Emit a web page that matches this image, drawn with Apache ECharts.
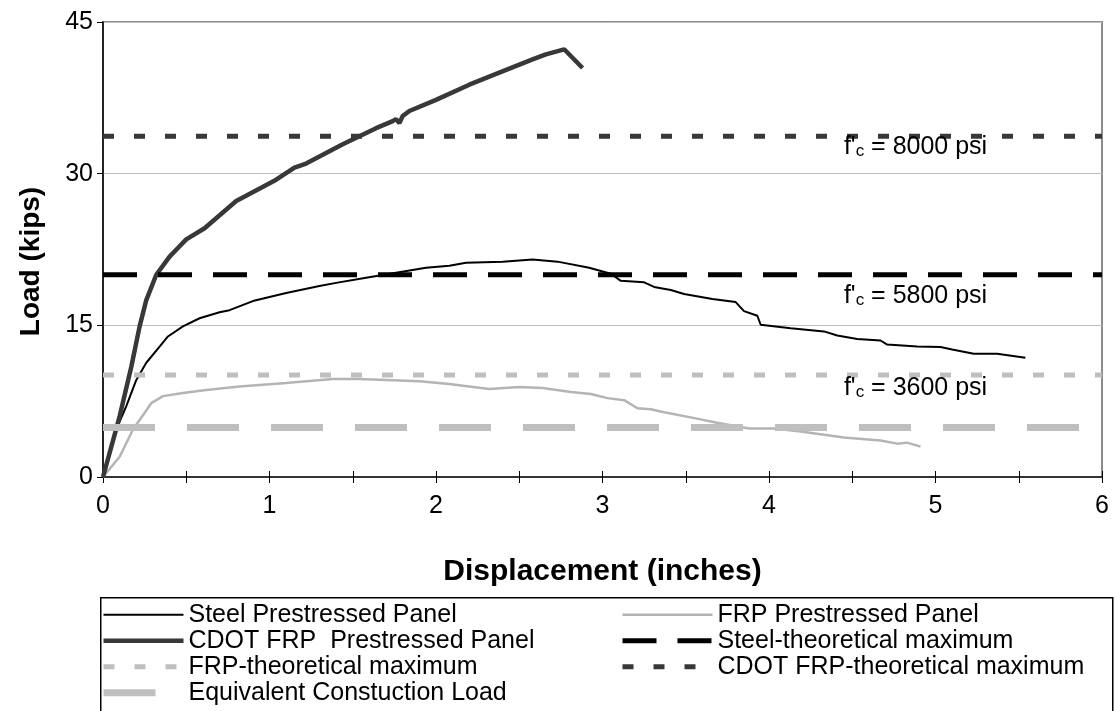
<!DOCTYPE html>
<html>
<head>
<meta charset="utf-8">
<script src="https://cdn.jsdelivr.net/npm/echarts@6/dist/echarts.min.js"></script>
<style>
  html, body { margin: 0; padding: 0; background: #fff; }
  #chart { width: 1115px; height: 711px; }
</style>
</head>
<body>
<div id="chart"></div>
<script>
// displacement (in), load (kips)
const steelPanel = [
  [0, 0], [0.08, 4.7], [0.14, 7.0], [0.20, 9.6], [0.26, 11.3], [0.34, 12.9], [0.39, 13.9],
  [0.48, 14.9], [0.58, 15.7], [0.70, 16.3], [0.76, 16.5], [0.90, 17.4], [1.10, 18.2],
  [1.30, 18.9], [1.40, 19.2], [1.58, 19.7], [1.76, 20.2], [1.94, 20.7], [2.08, 20.9],
  [2.18, 21.2], [2.40, 21.3], [2.58, 21.5], [2.73, 21.3], [2.92, 20.7], [3.05, 20.1],
  [3.11, 19.4], [3.25, 19.25], [3.31, 18.8], [3.41, 18.5], [3.49, 18.1], [3.66, 17.6],
  [3.80, 17.3], [3.85, 16.4], [3.93, 15.95], [3.95, 15.06], [4.13, 14.7], [4.33, 14.4],
  [4.41, 14.0], [4.53, 13.65], [4.67, 13.5], [4.71, 13.1], [4.89, 12.9], [5.03, 12.85],
  [5.10, 12.6], [5.23, 12.2], [5.37, 12.2], [5.54, 11.8]
];
const frpPanel = [
  [0, 0], [0.10, 2.0], [0.18, 4.7], [0.29, 7.3], [0.36, 8.0], [0.48, 8.3], [0.62, 8.6],
  [0.82, 8.96], [1.10, 9.3], [1.38, 9.7], [1.54, 9.7], [1.90, 9.46], [2.08, 9.2],
  [2.32, 8.7], [2.50, 8.9], [2.64, 8.8], [2.81, 8.4], [2.93, 8.2], [3.03, 7.8], [3.13, 7.6],
  [3.21, 6.8], [3.29, 6.7], [3.37, 6.4], [3.56, 5.8], [3.68, 5.4], [3.88, 4.8], [4.03, 4.8],
  [4.19, 4.5], [4.45, 3.9], [4.67, 3.6], [4.77, 3.3], [4.83, 3.4], [4.91, 3.0]
];
const cdotPanel = [
  [0, 0], [0.10, 6.0], [0.17, 10.9], [0.22, 14.9], [0.26, 17.5], [0.32, 20.0], [0.40, 21.8],
  [0.45, 22.65], [0.50, 23.5], [0.61, 24.6], [0.80, 27.3], [0.95, 28.6], [1.04, 29.4],
  [1.15, 30.6], [1.22, 31.0], [1.44, 32.9], [1.64, 34.5], [1.74, 35.2], [1.76, 35.4],
  [1.78, 35.0], [1.80, 35.7], [1.84, 36.2], [2.00, 37.3], [2.20, 38.8], [2.38, 40.0],
  [2.58, 41.3], [2.66, 41.8], [2.77, 42.3], [2.88, 40.45]
];

// horizontal limits (kips)
const steelTheoMax = 20.0;
const frpTheoMax = 10.1;
const cdotTheoMax = 33.7;
const constructionLoad = 4.9;
const xRange = [0, 6];

// annotation anchors [x, y] and concrete strengths
const fcLabels = [
  { at: [4.45, 32.7], psi: '8000' },
  { at: [4.45, 17.9], psi: '5800' },
  { at: [4.45, 8.8], psi: '3600' }
];

const FONT = "'Liberation Sans', Arial, sans-serif";

const hLine = (v) => xRange.map(x => [x, v]);

const chart = echarts.init(document.getElementById('chart'));

const legendBase = {
  orient: 'vertical', top: 602, padding: 0,
  itemHeight: 14, itemGap: 0.5,
  itemStyle: { opacity: 0 },
  lineStyle: { width: 'inherit', type: 'inherit' },
  textStyle: { fontSize: 25, lineHeight: 25.5, color: '#000', fontFamily: FONT }
};

const option = {
  animation: false,
  backgroundColor: '#fff',
  textStyle: { fontFamily: FONT, color: '#000' },
  grid: {
    left: 103, right: 13, top: 22, bottom: 234,
    show: true, borderColor: '#8c8c8c', borderWidth: 2, backgroundColor: 'transparent'
  },
  xAxis: [
    {
      type: 'value', min: 0, max: 6, interval: 0.5,
      name: 'Displacement (inches)', nameLocation: 'middle', nameGap: 80,
      nameTextStyle: { fontSize: 30, fontWeight: 'bold', color: '#000', fontFamily: FONT },
      axisLine: { onZero: false, lineStyle: { color: '#333', width: 2 } },
      axisTick: { show: true, length: 6, lineStyle: { color: '#000', width: 1 } },
      axisLabel: {
        fontSize: 25, color: '#000', margin: 17, fontFamily: FONT,
        formatter: v => (Number.isInteger(v) ? String(v) : '')
      },
      splitLine: { show: false }
    },
    {
      type: 'value', min: 0, max: 6, interval: 0.5, position: 'bottom',
      axisLine: { show: false },
      axisTick: { show: true, inside: true, length: 6, lineStyle: { color: '#000', width: 1 } },
      axisLabel: { show: false },
      splitLine: { show: false }
    }
  ],
  yAxis: {
    type: 'value', min: 0, max: 45, interval: 15,
    name: 'Load (kips)', nameLocation: 'middle', nameGap: 58, nameRotate: 90,
    nameTextStyle: {
      fontSize: 28, fontWeight: 'bold', color: '#000', fontFamily: FONT,
      padding: [0, 24, 0, 0]
    },
    axisLine: { show: true, lineStyle: { color: '#000', width: 1.5 } },
    axisTick: { show: true, length: 6, lineStyle: { color: '#000', width: 1 } },
    axisLabel: { fontSize: 25, color: '#000', margin: 10, fontFamily: FONT },
    splitLine: { show: true, lineStyle: { color: '#c0c0c0', width: 1 } }
  },
  legend: [
    Object.assign({}, legendBase, {
      left: 100, itemWidth: 80,
      data: ['Steel Prestressed Panel', 'CDOT FRP  Prestressed Panel', 'FRP-theoretical maximum', 'Equivalent Constuction Load']
    }),
    Object.assign({}, legendBase, {
      left: 620, itemWidth: 90,
      data: ['FRP Prestressed Panel', 'Steel-theoretical maximum', 'CDOT FRP-theoretical maximum']
    })
  ],
  graphic: [
    {
      type: 'rect', left: 100, top: 597, silent: true,
      shape: { width: 1012, height: 140 },
      style: { fill: 'transparent', stroke: '#000', lineWidth: 1.5 }
    }
  ],
  series: [
    {
      name: 'Steel Prestressed Panel', type: 'line', data: steelPanel,
      symbol: 'none', color: '#000', lineStyle: { color: '#000', width: 2 }, z: 3
    },
    {
      name: 'FRP Prestressed Panel', type: 'line', data: frpPanel,
      symbol: 'none', color: '#b4b4b4', lineStyle: { color: '#b4b4b4', width: 2.5 }, z: 3
    },
    {
      name: 'CDOT FRP  Prestressed Panel', type: 'line', data: cdotPanel,
      symbol: 'none', color: '#383838', lineStyle: { color: '#383838', width: 4.5 }, z: 3
    },
    {
      name: 'Steel-theoretical maximum', type: 'line', data: hLine(steelTheoMax),
      symbol: 'none', color: '#000', z: 4,
      lineStyle: { color: '#000', width: 5, type: [34, 21] }
    },
    {
      name: 'FRP-theoretical maximum', type: 'line', data: hLine(frpTheoMax),
      symbol: 'none', color: '#bfbfbf', z: 4,
      lineStyle: { color: '#bfbfbf', width: 5, type: [11, 20] }
    },
    {
      name: 'CDOT FRP-theoretical maximum', type: 'line', data: hLine(cdotTheoMax),
      symbol: 'none', color: '#383838', z: 4,
      lineStyle: { color: '#383838', width: 5, type: [11, 20] }
    },
    {
      name: 'Equivalent Constuction Load', type: 'line', data: hLine(constructionLoad),
      symbol: 'none', color: '#bfbfbf', z: 4,
      lineStyle: { color: '#bfbfbf', width: 7, type: [52, 32] }
    },
    {
      name: 'fc labels', type: 'scatter', symbolSize: 0, silent: true, z: 5,
      itemStyle: { opacity: 1 },
      data: fcLabels.map(d => ({ value: d.at, psi: d.psi })),
      label: {
        show: true, position: 'right', distance: 0, color: '#000',
        formatter: p => "{a|f'}{s|c}{a| = " + p.data.psi + ' psi}',
        rich: {
          a: { fontSize: 25, lineHeight: 26, verticalAlign: 'bottom', color: '#000', fontFamily: FONT },
          s: { fontSize: 17, lineHeight: 12, verticalAlign: 'bottom', color: '#000', fontFamily: FONT }
        }
      }
    }
  ]
};

chart.setOption(option);
</script>
</body>
</html>
